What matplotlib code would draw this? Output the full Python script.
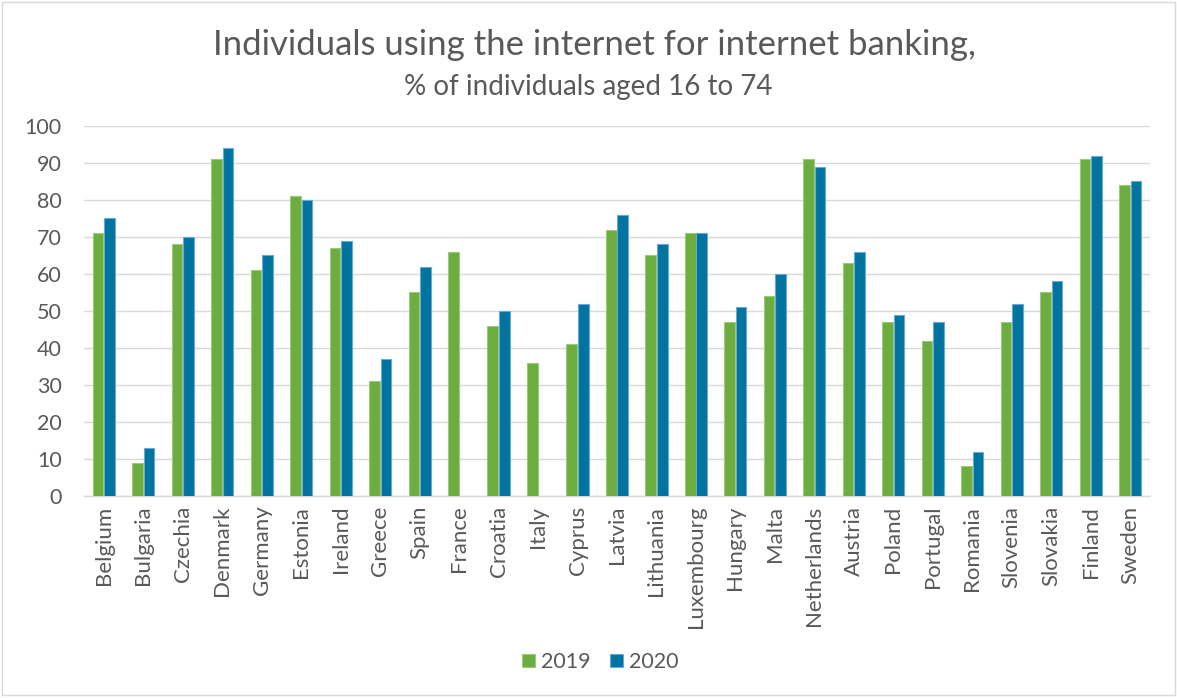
import matplotlib
matplotlib.use("Agg")
import matplotlib.pyplot as plt
import numpy as np
from matplotlib.patches import Rectangle

countries = ["Belgium", "Bulgaria", "Czechia", "Denmark", "Germany", "Estonia", "Ireland",
             "Greece", "Spain", "France", "Croatia", "Italy", "Cyprus", "Latvia", "Lithuania",
             "Luxembourg", "Hungary", "Malta", "Netherlands", "Austria", "Poland", "Portugal",
             "Romania", "Slovenia", "Slovakia", "Finland", "Sweden"]
v2019 = [71, 9, 68, 91, 61, 81, 67, 31, 55, 66, 46, 36, 41, 72, 65, 71, 47, 54, 91, 63,
         47, 42, 8, 47, 55, 91, 84]
v2020 = [75, 13, 70, 94, 65, 80, 69, 37, 62, np.nan, 50, np.nan, 52, 76, 68, 71, 51, 60,
         89, 66, 49, 47, 12, 52, 58, 92, 85]
yticks = list(range(0, 101, 10))

plt.rcParams['font.family'] = ['Lato', 'DejaVu Sans']

fig = plt.figure(figsize=(11.77, 6.98), dpi=100)
ax = fig.add_axes([0.0714, 0.2894, 0.9056, 0.5301])

x = np.arange(len(countries))
w = 0.27
green = "#6DAD3F"
blue = "#00749F"
ax.bar(x - w / 2 - 0.01, v2019, width=w, color=green, edgecolor="#9BCB7A", linewidth=0.8,
       label="2019", zorder=3)
ax.bar(x + w / 2 + 0.01, v2020, width=w, color=blue, edgecolor="#6AA8D8", linewidth=0.8,
       label="2020", zorder=3)

ax.set_xlim(-0.5, len(countries) - 0.5)
ax.set_ylim(0, 100)
ax.set_yticks(yticks)
ax.set_xticks(x)
ax.set_xticklabels(countries, rotation=90)
ax.tick_params(axis='y', length=0, labelsize=15.5, colors="#595959", pad=16)
ax.tick_params(axis='x', length=0, labelsize=16, colors="#595959", pad=7)
ax.grid(axis='y', color="#D9D9D9", linewidth=1, zorder=0)
for s in ["top", "right", "left"]:
    ax.spines[s].set_visible(False)
ax.spines["bottom"].set_color("#D9D9D9")
ax.spines["bottom"].set_linewidth(1)

fig.text(0.5055, 0.9355, "Individuals using the internet for internet banking,",
         ha="center", va="center", fontsize=25, color="#595959")
fig.text(0.4998, 0.876, "% of individuals aged 16 to 74", ha="center", va="center",
         fontsize=20, color="#595959")

leg = fig.legend(loc="center", bbox_to_anchor=(0.51, 0.0516), ncol=2, frameon=False,
                 fontsize=15.5, handlelength=0.6, handleheight=0.6, columnspacing=0.9,
                 handletextpad=0.3)
for t in leg.get_texts():
    t.set_color("#595959")

fig.patches.append(Rectangle((0.002, 0.004), 0.996, 0.993, transform=fig.transFigure,
                             fill=False, edgecolor="#D9D9D9", linewidth=1))

fig.savefig("out.png", dpi=100)
